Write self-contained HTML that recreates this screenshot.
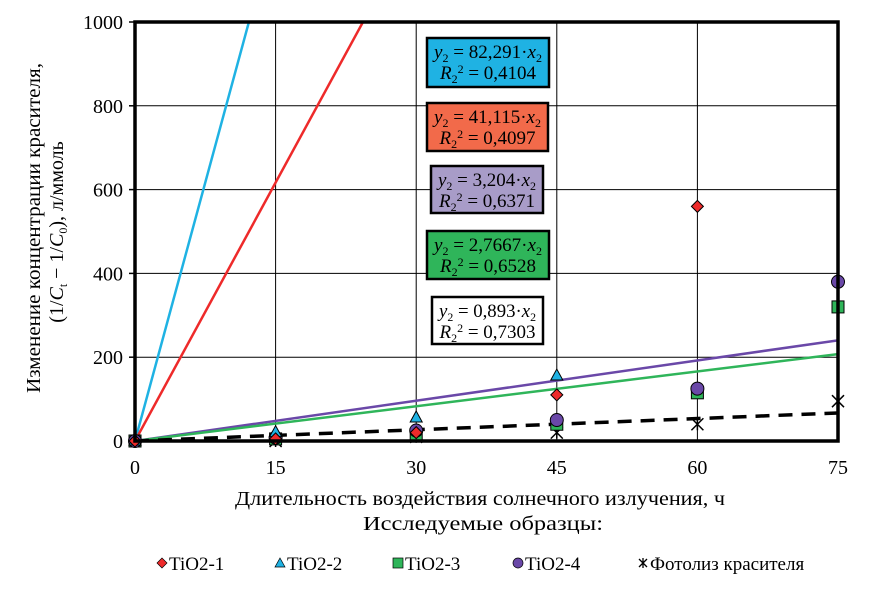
<!DOCTYPE html>
<html><head><meta charset="utf-8"><style>
body{margin:0;background:#fff;width:869px;height:591px;overflow:hidden}
svg{font-family:"Liberation Serif",serif}
</style></head><body>
<svg id="c" width="869" height="591"></svg>
<script>
const xTicks=[0,15,30,45,60,75];
const yTicks=[0,200,400,600,800,1000];
const xs=[0,15,30,45,60,75];
const tio1=[0,5,20,110,560,null];
const tio2=[0,20,55,155,null,null];
const tio3=[0,5,15,40,115,320];
const tio4=[0,8,25,50,125,380];
const photo=[0,0,10,20,40,95];
const slopes=[82.291,41.115,3.204,2.7667,0.893];
const lineColors=['#1fb2e3','#ee2a2a','#6a48a8','#2fb55a','#000'];
const X=v=>135+v*(838-135)/75, Y=v=>441-v*(441-22)/1000;
const NS='http://www.w3.org/2000/svg', svg=document.getElementById('c');
function mk(t,a,p){const e=document.createElementNS(NS,t);for(const k in a)e.setAttribute(k,a[k]);(p||svg).appendChild(e);return e;}
const defs=mk('clipPath',{id:'cp'});mk('rect',{x:135,y:22,width:703,height:419},defs);
xTicks.slice(1,-1).forEach(v=>{const l=mk('line',{x1:X(v),x2:X(v),y1:22,y2:441,stroke:'#000','stroke-width':1});

});
yTicks.slice(1,-1).forEach(v=>{const l=mk('line',{x1:135,x2:838,y1:Y(v),y2:Y(v),stroke:'#000','stroke-width':1});

});
yTicks.forEach(v=>{const t=mk('text',{x:123,y:Y(v)+7,'text-anchor':'end','font-size':20});t.textContent=v;


mk('line',{x1:129,x2:135,y1:Y(v),y2:Y(v),stroke:'#000','stroke-width':1.5});});
xTicks.forEach(v=>{const t=mk('text',{x:X(v),y:474,'text-anchor':'middle','font-size':20});t.textContent=v;

});
slopes.forEach((s,i)=>{const l=mk('line',{x1:X(0),y1:Y(0),x2:X(75),y2:Y(s*75),stroke:lineColors[i],'stroke-width':i==4?3.5:2.5,'clip-path':'url(#cp)','stroke-dasharray':i==4?'14,9':'none'});

});
function pts(arr,name,draw){arr.forEach((v,i)=>{if(v==null)return;const g=mk('g',{});draw(g,X(xs[i]),Y(v));

});}
pts(photo,'photolysis-point',(g,x,y)=>{mk('path',{d:`M${x-6} ${y-6}L${x+6} ${y+6}M${x+6} ${y-6}L${x-6} ${y+6}M${x} ${y-6}L${x} ${y+6}`,stroke:'#000','stroke-width':1.5},g);});
pts(tio3,'tio2-3-point',(g,x,y)=>mk('rect',{x:x-6,y:y-6,width:12,height:12,fill:'#2fb55a',stroke:'#000'},g));
pts(tio4,'tio2-4-point',(g,x,y)=>mk('circle',{cx:x,cy:y,r:6.5,fill:'#6a48a8',stroke:'#000'},g));
pts(tio2,'tio2-2-point',(g,x,y)=>mk('path',{d:`M${x} ${y-7}L${x+6} ${y+4}L${x-6} ${y+4}Z`,fill:'#1fb2e3',stroke:'#000'},g));
pts(tio1,'tio2-1-point',(g,x,y)=>mk('path',{d:`M${x} ${y-6}L${x+6} ${y}L${x} ${y+6}L${x-6} ${y}Z`,fill:'#ee2a2a',stroke:'#000'},g));
mk('rect',{x:135,y:22,width:703,height:419,fill:'none',stroke:'#000','stroke-width':3.5});
const boxes=[[427,38,122,49,'#1fb2e3','82,291','0,4104'],[427,103,121,48,'#f26a4a','41,115','0,4097'],[431,166,112,47,'#a89cc8','3,204','0,6371'],[427,231,122,48,'#2fb55a','2,7667','0,6528'],[432,297,111,47,'#fff','0,893','0,7303']];
boxes.forEach(b=>{const g=mk('g',{});
mk('rect',{x:b[0],y:b[1],width:b[2],height:b[3],fill:b[4],stroke:'#000','stroke-width':2.5},g);
const cx=b[0]+b[2]/2;
const t1=mk('text',{x:cx,y:b[1]+20,'text-anchor':'middle','font-size':19,textLength:b[2]-14,lengthAdjust:'spacingAndGlyphs'},g);
t1.innerHTML=`<tspan font-style="italic">y</tspan><tspan font-size="12" dy="4">2</tspan><tspan dy="-4"> = ${b[5]}·</tspan><tspan font-style="italic">x</tspan><tspan font-size="12" dy="4">2</tspan>`;
const t2=mk('text',{x:cx,y:b[1]+41,'text-anchor':'middle','font-size':19},g);
t2.innerHTML=`<tspan font-style="italic">R</tspan><tspan font-size="12" dy="4">2</tspan><tspan font-size="12" dy="-10">2</tspan><tspan dy="6"> = ${b[6]}</tspan>`;});
let t=mk('text',{x:480,y:505,'text-anchor':'middle','font-size':20,textLength:490,lengthAdjust:'spacingAndGlyphs'});t.textContent='Длительность воздействия солнечного излучения, ч';

t=mk('text',{x:483,y:530,'text-anchor':'middle','font-size':20,textLength:240,lengthAdjust:'spacingAndGlyphs'});t.textContent='Исследуемые образцы:';

t=mk('text',{x:0,y:0,'text-anchor':'middle','font-size':20,transform:'translate(40,228) rotate(-90)',textLength:330,lengthAdjust:'spacingAndGlyphs'});t.textContent='Изменение концентрации красителя,';

t=mk('text',{x:0,y:0,'text-anchor':'middle','font-size':20,transform:'translate(63,232) rotate(-90)'});
t.innerHTML='(1/<tspan font-style="italic">C</tspan><tspan font-size="12" dy="4">t</tspan><tspan dy="-4"> − 1/</tspan><tspan font-style="italic">C</tspan><tspan font-size="12" dy="4">0</tspan><tspan dy="-4">), л/ммоль</tspan>';

const leg=[[162,'TiO2-1','#ee2a2a','d'],[280,'TiO2-2','#1fb2e3','t'],[398,'TiO2-3','#2fb55a','s'],[518,'TiO2-4','#6a48a8','c'],[643,'Фотолиз красителя','#000','x']];
leg.forEach(l=>{const g=mk('g',{});
const x=l[0],y=563;
if(l[3]=='d')mk('path',{d:`M${x} ${y-5}L${x+5} ${y}L${x} ${y+5}L${x-5} ${y}Z`,fill:l[2],stroke:'#000','stroke-width':.7},g);
if(l[3]=='t')mk('path',{d:`M${x} ${y-5}L${x+5} ${y+4}L${x-5} ${y+4}Z`,fill:l[2],stroke:'#000','stroke-width':.7},g);
if(l[3]=='s')mk('rect',{x:x-5,y:y-5,width:10,height:10,fill:l[2],stroke:'#000','stroke-width':.7},g);
if(l[3]=='c')mk('circle',{cx:x,cy:y,r:5,fill:l[2],stroke:'#000','stroke-width':.7},g);
if(l[3]=='x')mk('path',{d:`M${x-4} ${y-4}L${x+4} ${y+4}M${x+4} ${y-4}L${x-4} ${y+4}M${x} ${y-5}L${x} ${y+5}`,stroke:'#000','stroke-width':1.3},g);
const tt=mk('text',{x:x+7,y:y+7,'font-size':19},g);tt.textContent=l[1];});
</script>
</body></html>
